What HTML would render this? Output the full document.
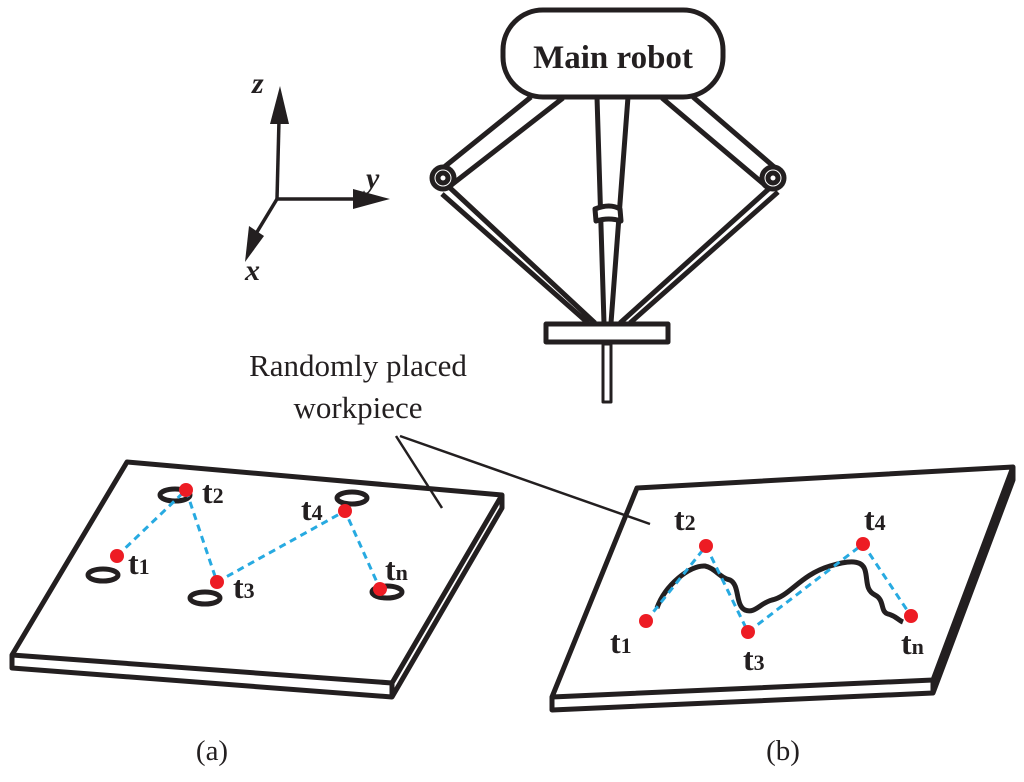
<!DOCTYPE html>
<html><head><meta charset="utf-8"><style>html,body{margin:0;padding:0;background:#fff}svg{display:block}</style></head>
<body>
<svg width="1024" height="782" viewBox="0 0 1024 782" xmlns="http://www.w3.org/2000/svg">
<rect width="1024" height="782" fill="#fff"/>
<g font-family="Liberation Serif, serif" fill="#231f20">
<!-- axes -->
<g stroke="#231f20" stroke-width="3.5" fill="none">
<line x1="277" y1="199" x2="279" y2="120"/>
<line x1="277" y1="199" x2="356" y2="199"/>
<line x1="277" y1="199" x2="257" y2="232"/>
</g>
<polygon points="280,86 270,124 289,124" />
<polygon points="390,199 353,189 353,209" />
<polygon points="245,262 249,226 264,236" />
<text x="252" y="93" font-size="30" font-style="italic" font-weight="bold">z</text>
<text x="366" y="188" font-size="30" font-style="italic" font-weight="bold">y</text>
<text x="245" y="280" font-size="30" font-style="italic" font-weight="bold">x</text>

<!-- robot -->
<g stroke="#231f20" stroke-width="5" fill="none" stroke-linejoin="round">
<path d="M531,97 L438,172 M563,98 L450,186"/>
<path d="M662,98 L766,186 M693,97 L780,172"/>
<path d="M448,186 L595,323 M442,194 L588,323"/>
<path d="M772,186 L620,323 M778,192 L630,323"/>
<path d="M597,97 L604,323 M628,97 L611,323"/>
<path d="M595,209 Q610,203 620,209 L621,221 Q609,217 596,221 Z" fill="#fff"/>
<rect x="503" y="10" width="220" height="87" rx="40" ry="40" fill="#fff"/>
<rect x="546" y="324" width="122" height="18" fill="#fff"/>
<rect x="603" y="344" width="8" height="58" stroke-width="3"/>
<circle cx="443" cy="178" r="11" fill="#fff"/>
<circle cx="443" cy="178" r="5"/>
<circle cx="773" cy="178" r="11" fill="#fff"/>
<circle cx="773" cy="178" r="5"/>
</g>
<text x="613" y="68" font-size="33" font-weight="bold" text-anchor="middle">Main robot</text>

<!-- label -->
<text x="358" y="376" font-size="31" text-anchor="middle">Randomly placed</text>
<text x="358" y="418" font-size="31" text-anchor="middle">workpiece</text>

<!-- plate a -->
<g stroke="#231f20" stroke-width="5" fill="none" stroke-linejoin="round">
<polygon points="127,462 502,495 392,683 12,655" fill="#fff"/>
<path d="M12,655 L12,668 L392,697 L502,508 L502,495"/>
<path d="M392,683 L392,697"/>
<ellipse cx="103" cy="575" rx="15" ry="6"/>
<ellipse cx="175" cy="495" rx="15" ry="6"/>
<ellipse cx="205" cy="598" rx="15" ry="6"/>
<ellipse cx="352" cy="498" rx="15" ry="6"/>
<ellipse cx="387" cy="592" rx="15" ry="6"/>
</g>
<polyline points="117,556 186,490 217,582 345,511 380,589" fill="none" stroke="#27aae1" stroke-width="3" stroke-dasharray="7,5"/>
<g fill="#ed1c24">
<circle cx="117" cy="556" r="7"/><circle cx="186" cy="490" r="7"/><circle cx="217" cy="582" r="7"/><circle cx="345" cy="511" r="7"/><circle cx="380" cy="589" r="7"/>
</g>
<g font-size="32" font-weight="bold">
<text x="128" y="574">t<tspan font-size="22">1</tspan></text>
<text x="202" y="503">t<tspan font-size="22">2</tspan></text>
<text x="233" y="598">t<tspan font-size="22">3</tspan></text>
<text x="301" y="520">t<tspan font-size="22">4</tspan></text>
<text x="385" y="580">t<tspan font-size="22">n</tspan></text>
</g>

<!-- plate b -->
<g stroke="#231f20" stroke-width="5" fill="none" stroke-linejoin="round">
<polygon points="637,488 1013,467 933,680 552,697" fill="#fff"/>
<path d="M552,697 L552,710 L933,693 L1013,480 L1013,467"/>
<path d="M933,680 L933,693"/>
<path d="M657,608 C665,585 690,565 705,566 C715,568 720,578 730,580 C740,585 735,605 745,610 C755,614 760,603 772,600 C790,596 800,575 830,566 C850,560 862,560 865,570 C868,580 865,590 875,595 C885,600 880,612 888,614 C896,616 898,620 903,622" stroke-width="5"/>
</g>
<polyline points="646,621 706,546 748,632 863,544 911,616" fill="none" stroke="#27aae1" stroke-width="3" stroke-dasharray="7,5"/>
<g fill="#ed1c24">
<circle cx="646" cy="621" r="7"/><circle cx="706" cy="546" r="7"/><circle cx="748" cy="632" r="7"/><circle cx="863" cy="544" r="7"/><circle cx="911" cy="616" r="7"/>
</g>
<g font-size="32" font-weight="bold">
<text x="610" y="653">t<tspan font-size="22">1</tspan></text>
<text x="674" y="530">t<tspan font-size="22">2</tspan></text>
<text x="743" y="670">t<tspan font-size="22">3</tspan></text>
<text x="864" y="530">t<tspan font-size="22">4</tspan></text>
<text x="901" y="654">t<tspan font-size="22">n</tspan></text>
</g>

<g stroke="#231f20" stroke-width="2.5">
<line x1="396" y1="436" x2="442" y2="508"/>
<line x1="400" y1="436" x2="650" y2="524"/>
</g>

<text x="212" y="760" font-size="29" text-anchor="middle">(a)</text>
<text x="783" y="760" font-size="29" text-anchor="middle">(b)</text>
</g>
</svg>
</body></html>
